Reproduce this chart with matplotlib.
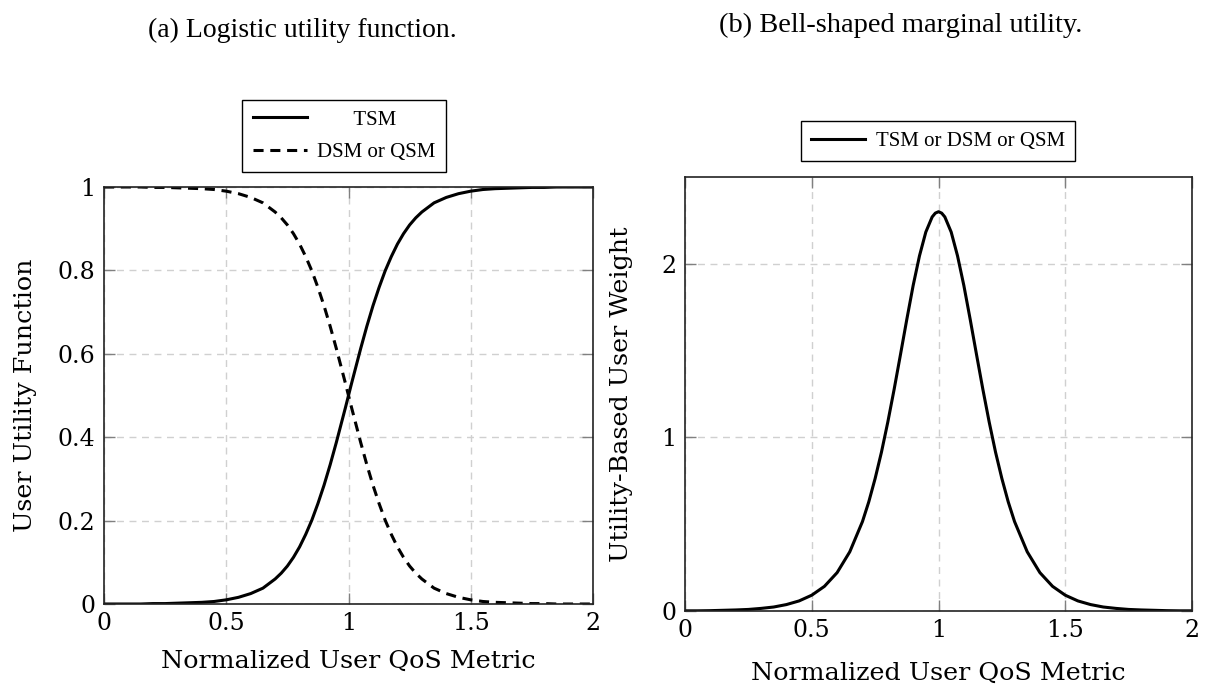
import matplotlib
matplotlib.use('Agg')
import matplotlib.pyplot as plt

qos = [0, 0.05, 0.1, 0.15, 0.2, 0.25, 0.3, 0.35, 0.4, 0.45, 0.5, 0.55, 0.6, 0.65, 0.7,
       0.725, 0.75, 0.775, 0.8, 0.825, 0.85, 0.875, 0.9, 0.925, 0.95, 0.975, 0.9875, 1.0,
       1.0125, 1.025, 1.05, 1.075, 1.1, 1.125, 1.15, 1.175, 1.2, 1.225, 1.25, 1.275,
       1.3, 1.35, 1.4, 1.45, 1.5, 1.55, 1.6, 1.65, 1.7, 1.75, 1.8, 1.85, 1.9, 1.95, 2.0]

tsm = [0, 0, 0, 0, 0.001, 0.001, 0.002, 0.003, 0.004, 0.006, 0.010, 0.016, 0.025, 0.038, 0.060,
       0.074, 0.091, 0.112, 0.137, 0.167, 0.201, 0.241, 0.285, 0.334, 0.387, 0.443, 0.471, 0.500,
       0.529, 0.557, 0.613, 0.666, 0.715, 0.759, 0.799, 0.833, 0.863, 0.888, 0.909, 0.926,
       0.940, 0.962, 0.975, 0.984, 0.990, 0.994, 0.996, 0.997, 0.998, 0.999, 0.999, 1, 1, 1, 1]

dsm = [1, 1, 1, 1, 0.999, 0.999, 0.998, 0.997, 0.996, 0.994, 0.990, 0.984, 0.975, 0.962, 0.940,
       0.926, 0.909, 0.888, 0.863, 0.833, 0.799, 0.759, 0.715, 0.666, 0.613, 0.557, 0.529, 0.500,
       0.471, 0.443, 0.387, 0.334, 0.285, 0.241, 0.201, 0.167, 0.137, 0.112, 0.091, 0.074,
       0.060, 0.038, 0.025, 0.016, 0.010, 0.006, 0.004, 0.003, 0.002, 0.001, 0.001, 0, 0, 0, 0]

weight = [0.001, 0.001, 0.002, 0.004, 0.006, 0.009, 0.015, 0.023, 0.037, 0.058, 0.091, 0.142, 0.221, 0.341, 0.515,
          0.629, 0.763, 0.915, 1.088, 1.277, 1.477, 1.680, 1.875, 2.046, 2.183, 2.270, 2.292, 2.300,
          2.292, 2.270, 2.183, 2.046, 1.875, 1.680, 1.477, 1.277, 1.088, 0.915, 0.763, 0.629,
          0.515, 0.341, 0.221, 0.142, 0.091, 0.058, 0.037, 0.023, 0.015, 0.009, 0.006, 0.004, 0.002, 0.001, 0.001]

xticks = [0, 0.5, 1, 1.5, 2]
xticklabels = ['0', '0.5', '1', '1.5', '2']
yticksL = [0, 0.2, 0.4, 0.6, 0.8, 1]
yticklabelsL = ['0', '0.2', '0.4', '0.6', '0.8', '1']
yticksR = [0, 1, 2]
yticklabelsR = ['0', '1', '2']

W, H = 1207, 693
fig = plt.figure(figsize=(W / 100, H / 100), dpi=100)

lab_font = {'family': 'DejaVu Serif', 'size': 18.3}
tick_font = 'DejaVu Serif'
cap_font = 'Liberation Serif'


def style(ax, yticks, yticklabels, ymax):
    ax.set_xlim(0, 2)
    ax.set_ylim(0, ymax)
    ax.set_xticks(xticks)
    ax.set_xticklabels(xticklabels, family=tick_font, fontsize=17)
    ax.set_yticks(yticks)
    ax.set_yticklabels(yticklabels, family=tick_font, fontsize=17)
    ax.tick_params(direction='in', length=8, width=1, color='#808080',
                   top=True, right=True, pad=6)
    ax.grid(True, color='#d0d0d0', linestyle=(0, (5, 4)), linewidth=1)
    for s in ax.spines.values():
        s.set_linewidth(1.2)
        s.set_color('#222222')


def legend(ax, cx, cy):
    leg = ax.legend(loc='center', bbox_to_anchor=(cx / W, 1 - cy / H),
                    bbox_transform=fig.transFigure, frameon=True, fancybox=False,
                    edgecolor='black', framealpha=1, handlelength=2.6,
                    handletextpad=0.5, labelspacing=0.6, borderpad=0.5,
                    prop={'family': cap_font, 'size': 15})
    leg.get_frame().set_linewidth(1)
    return leg


# (a) logistic utility
axL = fig.add_axes([104 / W, 1 - 604 / H, 489 / W, 417 / H])
axL.plot(qos, tsm, color='black', lw=2.2, label='       TSM')
axL.plot(qos, dsm, color='black', lw=2.2, linestyle=(0, (3.3, 2.2)), label='DSM or QSM')
style(axL, yticksL, yticklabelsL, 1)
axL.set_xlabel('Normalized User QoS Metric', fontdict=lab_font)
axL.set_ylabel('User Utility Function', fontdict=lab_font)
axL.xaxis.set_label_coords(0.5, -0.11)
axL.yaxis.set_label_coords(-0.137, 0.5)
legend(axL, 344, 136)

# (b) bell-shaped marginal utility
axR = fig.add_axes([685 / W, 1 - 611 / H, 507 / W, 434 / H])
axR.plot(qos, weight, color='black', lw=2.2, label='TSM or DSM or QSM')
style(axR, yticksR, yticklabelsR, 2.5)
axR.set_xlabel('Normalized User QoS Metric', fontdict=lab_font)
axR.set_ylabel('Utility-Based User Weight', fontdict=lab_font)
axR.xaxis.set_label_coords(0.5, -0.118)
axR.yaxis.set_label_coords(-0.103, 0.5)
legend(axR, 938, 141)

fig.text(302 / W, 1 - 30 / H, '(a) Logistic utility function.', ha='center', va='center',
         family=cap_font, fontsize=20)
fig.text(901 / W, 1 - 25 / H, '(b) Bell-shaped marginal utility.', ha='center', va='center',
         family=cap_font, fontsize=20.5)

fig.savefig('out.png', dpi=100)
